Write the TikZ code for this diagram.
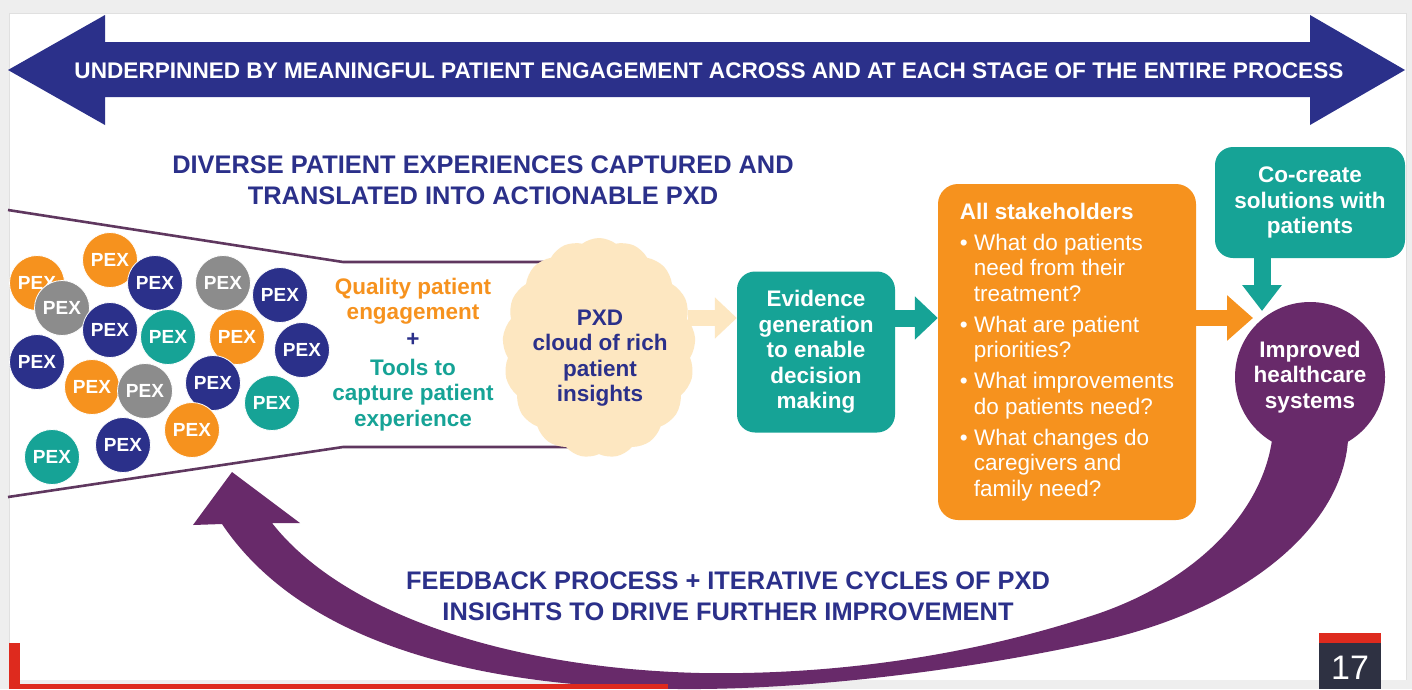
\documentclass[tikz,border=0pt]{standalone}
\usepackage{fontspec}
\setmainfont{Liberation Sans}
\usetikzlibrary{shapes.symbols,arrows.meta,calc}
\definecolor{navy}{RGB}{43,48,138}
\definecolor{teal2}{RGB}{22,163,150}
\definecolor{orng}{RGB}{246,146,30}
\definecolor{grayc}{RGB}{140,140,140}
\definecolor{purp}{RGB}{104,42,106}
\definecolor{peach}{RGB}{253,231,193}
\definecolor{funnel}{RGB}{95,55,95}
\definecolor{slidebg}{RGB}{238,238,238}
\definecolor{darkbox}{RGB}{46,49,66}
\definecolor{redc}{RGB}{222,42,30}
\begin{document}
\begin{tikzpicture}[x=1pt,y=-1pt,
 pex/.style={circle,minimum size=55pt,inner sep=0pt,draw=white,line width=0.8pt,text=white,font=\fontsize{19}{19}\selectfont\bfseries},
 hd/.style={text=navy,font=\fontsize{25.4}{31}\selectfont\bfseries,align=center,inner sep=0pt},
 bd/.style={font=\fontsize{22.5}{25.5}\selectfont\bfseries,align=center,inner sep=0pt},
 tbox/.style={bd,fill=teal2,rounded corners=18pt,text=white},
 funnelline/.style={draw=funnel,line width=2.6pt},
 blockarr/.style={line width=#1},
]
\useasboundingbox (0,0) rectangle (1412,689);
\fill[slidebg] (0,0) rectangle (1412,689);
\fill[white] (9,13) rectangle (1406,680);
\draw[black!12,line width=1pt] (9,13) -- (1406,13) -- (1406,680);
\draw[black!12,line width=1pt] (9,13) -- (9,689);

% top double arrow
\fill[navy] (8,70) -- (105,15) -- (105,42) -- (1310,42) -- (1310,15) -- (1405,70)
  -- (1310,125) -- (1310,97) -- (105,97) -- (105,125) -- cycle;
\node[text=white,font=\fontsize{22.6}{22.6}\selectfont\bfseries,inner sep=0pt] (toptxt) at (709,71)
  {UNDERPINNED BY MEANINGFUL PATIENT ENGAGEMENT ACROSS AND AT EACH STAGE OF THE ENTIRE PROCESS};

% heading
\node[hd] (head) at (483,180) {DIVERSE PATIENT EXPERIENCES CAPTURED AND\\TRANSLATED INTO ACTIONABLE PXD};

% funnel
\draw[funnelline] (8,210) -- (343,262) -- (575,262);
\draw[funnelline] (8,497) -- (343,447) -- (570,447);

% PEX circles
\foreach \c/\x/\y [count=\i] in {orng/37/283, grayc/62/308, orng/110/260, navy/155/283,
  grayc/223/283, navy/280/295, navy/110/330, teal2/168/337, orng/237/337, navy/302/350,
  navy/37/362, orng/92/387, grayc/145/391, navy/213/383, orng/192/430, teal2/272/403,
  navy/123/445, teal2/52/457}
  \node[pex,fill=\c] (pex\i) at (\x,\y) {PEX};

% middle texts
\node[bd,text=orng] (qual) at (413,301) {Quality patient\\engagement};
\node[bd,text=navy] (plus) at (413,340) {+};
\node[bd,text=teal2] (tools) at (413,395) {Tools to\\capture patient\\experience};

% cloud
\node[cloud,cloud puffs=17,cloud puff arc=75,cloud ignores aspect,fill=peach,
  minimum width=193pt,minimum height=220pt,inner sep=0pt] (cloud) at (599,348) {};
\node[bd,text=navy] (cloudtxt) at (600,358) {PXD\\cloud of rich\\patient\\insights};

% boxes
\node[tbox,minimum width=158pt,minimum height=161pt] (ev) at (816,352)
  {Evidence\\generation\\to enable\\decision\\making};
\node[fill=orng,rounded corners=20pt,text=white,minimum width=258pt,minimum height=336pt,
  inner sep=0pt,align=left,font=\fontsize{22.5}{25.5}\selectfont] (sh) at (1067,352)
  {\textbf{All stakeholders}\\[5.5pt]
   \textbullet\ What do patients\\
   \hspace*{14pt}need from their\\
   \hspace*{14pt}treatment?\\[5.5pt]
   \textbullet\ What are patient\\
   \hspace*{14pt}priorities?\\[5.5pt]
   \textbullet\ What improvements\\
   \hspace*{14pt}do patients need?\\[5.5pt]
   \textbullet\ What changes do\\
   \hspace*{14pt}caregivers and\\
   \hspace*{14pt}family need?};
\node[tbox,minimum width=190pt,minimum height=111pt] (co) at (1310,202.5)
  {Co-create\\solutions with\\patients};

% block arrows
\coordinate (a1) at (688,318);
\coordinate (a3) at (1253,318);
\coordinate (t2) at (1262,311);
\draw[blockarr=16pt,draw=peach,-{Triangle[length=22pt,width=40pt]}] (a1) -- (a1 -| ev.west);
\draw[blockarr=17pt,draw=teal2,-{Triangle[length=23pt,width=42pt]}] (ev.east |- a1) -- (sh.west |- a1);
\draw[blockarr=16pt,draw=orng,-{Triangle[length=26pt,width=44pt]}] (sh.east |- a1) -- (a3);
\draw[blockarr=17pt,draw=teal2,-{Triangle[length=26pt,width=38pt]}] (co.south -| t2) -- (t2);

% purple feedback band
\fill[purp] (1348,440)
  .. controls (1342,530) and (1240,610) .. (1100,641)
  .. controls (960,672) and (800,690) .. (680,689)
  .. controls (470,688) and (300,640) .. (222,524)
  -- (193,525) -- (232,472) -- (300,523) -- (272,523)
  .. controls (340,610) and (500,668) .. (700,673)
  .. controls (880,676) and (1020,640) .. (1100,613)
  .. controls (1200,578) and (1262,510) .. (1272,440)
  -- cycle;
\node[circle,fill=purp,minimum size=150pt,inner sep=0pt,bd,text=white] (imp) at (1310,377)
  {Improved\\healthcare\\systems};

% bottom text
\node[hd] (foot) at (728,596) {FEEDBACK PROCESS + ITERATIVE CYCLES OF PXD\\INSIGHTS TO DRIVE FURTHER IMPROVEMENT};

% slide decorations
\fill[redc] (9,643) rectangle (20,689);
\fill[redc] (9,684) rectangle (668,689);
\fill[redc] (1319,633) rectangle (1381,643);
\fill[darkbox] (1319,643) rectangle (1381,689);
\node[text=white,font=\fontsize{34}{34}\selectfont,inner sep=0pt] (pg) at (1350,668) {17};
\end{tikzpicture}
\end{document}
